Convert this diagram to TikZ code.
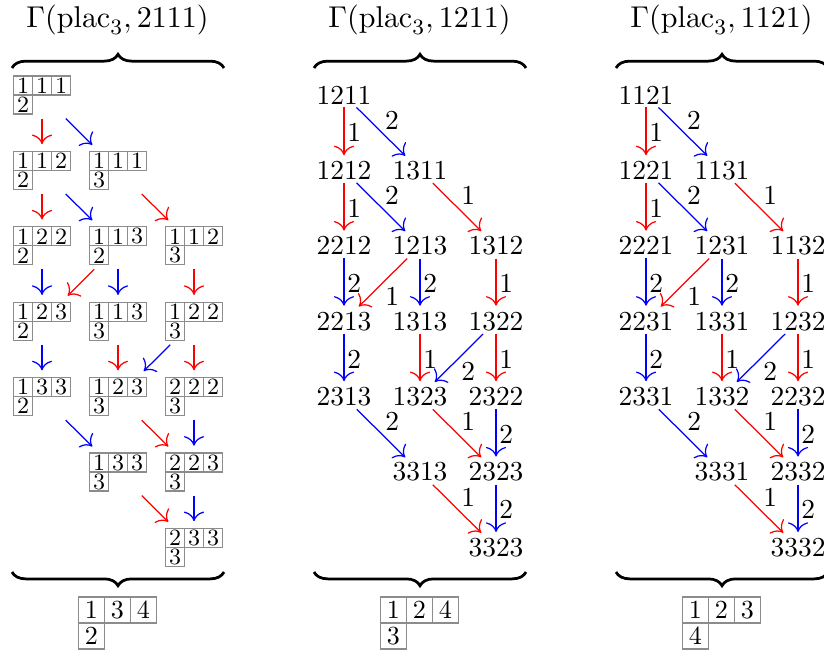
\documentclass[tikz,border=0pt]{standalone}
\usetikzlibrary{decorations.pathreplacing,arrows.meta}
\tikzset{
  num/.style={inner sep=1pt, font=\fontsize{10}{12}\selectfont},
  lbl/.style={inner sep=1pt, text=black, font=\fontsize{10}{12}\selectfont},
  ttl/.style={inner sep=0pt, font=\fontsize{11}{13}\selectfont},
  tabbox/.style={inner sep=0pt, minimum width=0.832cm, minimum height=0.589cm},
  cellline/.style={draw=black!45, line width=0.4pt},
  smalldigit/.style={inner sep=0pt, font=\fontsize{8.5}{10}\selectfont},
  bigdigit/.style={inner sep=0pt, font=\fontsize{9.5}{11}\selectfont},
  brc/.style={decorate, decoration={brace, amplitude=5pt}, line width=1pt},
  edge/.style={-{To[scale=1.35]}, shorten >=1pt, line width=0.45pt},
}
% small tableau: name, cx, cy, a, b, c, d
\newcommand\stab[7]{%
  \node[tabbox] (#1) at (#2,#3) {};
  \draw[cellline] (#2-28.5,#3-19) rectangle (#2-9.5,#3)
                  (#2-9.5,#3-19) rectangle (#2+9.5,#3)
                  (#2+9.5,#3-19) rectangle (#2+28.5,#3)
                  (#2-28.5,#3) rectangle (#2-9.5,#3+19);
  \node[smalldigit] (#1-a) at (#2-19,#3-9.5) {#4};
  \node[smalldigit] (#1-b) at (#2,#3-9.5) {#5};
  \node[smalldigit] (#1-c) at (#2+19,#3-9.5) {#6};
  \node[smalldigit] (#1-d) at (#2-19,#3+9.5) {#7};
}
% big tableau: name, cx, a, b, c, d
\newcommand\btab[6]{%
  \draw[cellline] (#2-39,597) rectangle (#2-13,623)
                  (#2-13,597) rectangle (#2+13,623)
                  (#2+13,597) rectangle (#2+39,623)
                  (#2-39,623) rectangle (#2-13,649);
  \node[bigdigit] (#1-a) at (#2-26,610) {#3};
  \node[bigdigit] (#1-b) at (#2,610) {#4};
  \node[bigdigit] (#1-c) at (#2+26,610) {#5};
  \node[bigdigit] (#1-d) at (#2-26,636) {#6};
}
\newcommand\crysedges[1]{%
  \foreach \es/\et/\col/\lb/\p in {
    00/10/red/1/right, 00/11/blue/2/above right,
    10/20/red/1/right, 10/21/blue/2/above right, 11/22/red/1/above right,
    20/30/blue/2/right, 21/30/red/1/below right, 21/31/blue/2/right, 22/32/red/1/right,
    30/40/blue/2/right, 31/41/red/1/right, 32/41/blue/2/below right, 32/42/red/1/right,
    40/51/blue/2/above right, 41/52/red/1/above right, 42/52/blue/2/right,
    51/62/red/1/above right, 52/62/blue/2/right}
  {\draw[edge,\col] (#1\es) -- node[lbl,\p] {\lb} (#1\et);}
}
\begin{document}
\begin{tikzpicture}[x=0.0128cm, y=-0.0128cm]
\useasboundingbox (0,0) rectangle (824,652);
\clip (0,0) rectangle (824,652);

% titles
\node[ttl] (title1) at (117.5,20) {$\Gamma(\mathrm{plac}_3, 2111)$};
\node[ttl] (title2) at (419.5,20) {$\Gamma(\mathrm{plac}_3, 1211)$};
\node[ttl] (title3) at (721.5,20) {$\Gamma(\mathrm{plac}_3, 1121)$};

% braces
\foreach \bx in {0,302,604} {
  \draw[brc] (12+\bx,68) -- (224+\bx,68);
  \draw[brc] (224+\bx,572) -- (12+\bx,572);
}

% panel 1: tableaux
\foreach \r/\k/\ta/\tb/\tc/\td in {
  0/0/1/1/1/2, 1/0/1/1/2/2, 1/1/1/1/1/3,
  2/0/1/2/2/2, 2/1/1/1/3/2, 2/2/1/1/2/3,
  3/0/1/2/3/2, 3/1/1/1/3/3, 3/2/1/2/2/3,
  4/0/1/3/3/2, 4/1/1/2/3/3, 4/2/2/2/2/3,
  5/1/1/3/3/3, 5/2/2/2/3/3, 6/2/2/3/3/3}
{ \stab{T\r\k}{42+76*\k}{95+75.4*\r}{\ta}{\tb}{\tc}{\td} }

\foreach \es/\et/\col in {
  00/10/red, 00/11/blue, 10/20/red, 10/21/blue, 11/22/red,
  20/30/blue, 21/30/red, 21/31/blue, 22/32/red,
  30/40/blue, 31/41/red, 32/41/blue, 32/42/red,
  40/51/blue, 41/52/red, 42/52/blue, 51/62/red, 52/62/blue}
{ \draw[edge,\col] (T\es) -- (T\et); }

% panel 2
\foreach \r/\k/\w in {
  0/0/1211, 1/0/1212, 1/1/1311, 2/0/2212, 2/1/1213, 2/2/1312,
  3/0/2213, 3/1/1313, 3/2/1322, 4/0/2313, 4/1/1323, 4/2/2322,
  5/1/3313, 5/2/2323, 6/2/3323}
{ \node[num] (P\r\k) at ({344+76*\k},{95+75.4*\r}) {\w}; }
\crysedges{P}

% panel 3
\foreach \r/\k/\w in {
  0/0/1121, 1/0/1221, 1/1/1131, 2/0/2221, 2/1/1231, 2/2/1132,
  3/0/2231, 3/1/1331, 3/2/1232, 4/0/2331, 4/1/1332, 4/2/2232,
  5/1/3331, 5/2/2332, 6/2/3332}
{ \node[num] (Q\r\k) at ({646+76*\k},{95+75.4*\r}) {\w}; }
\crysedges{Q}

% bottom tableaux
\btab{B1}{117.5}{1}{3}{4}{2}
\btab{B2}{419.5}{1}{2}{4}{3}
\btab{B3}{721.5}{1}{2}{3}{4}
\end{tikzpicture}
\end{document}
